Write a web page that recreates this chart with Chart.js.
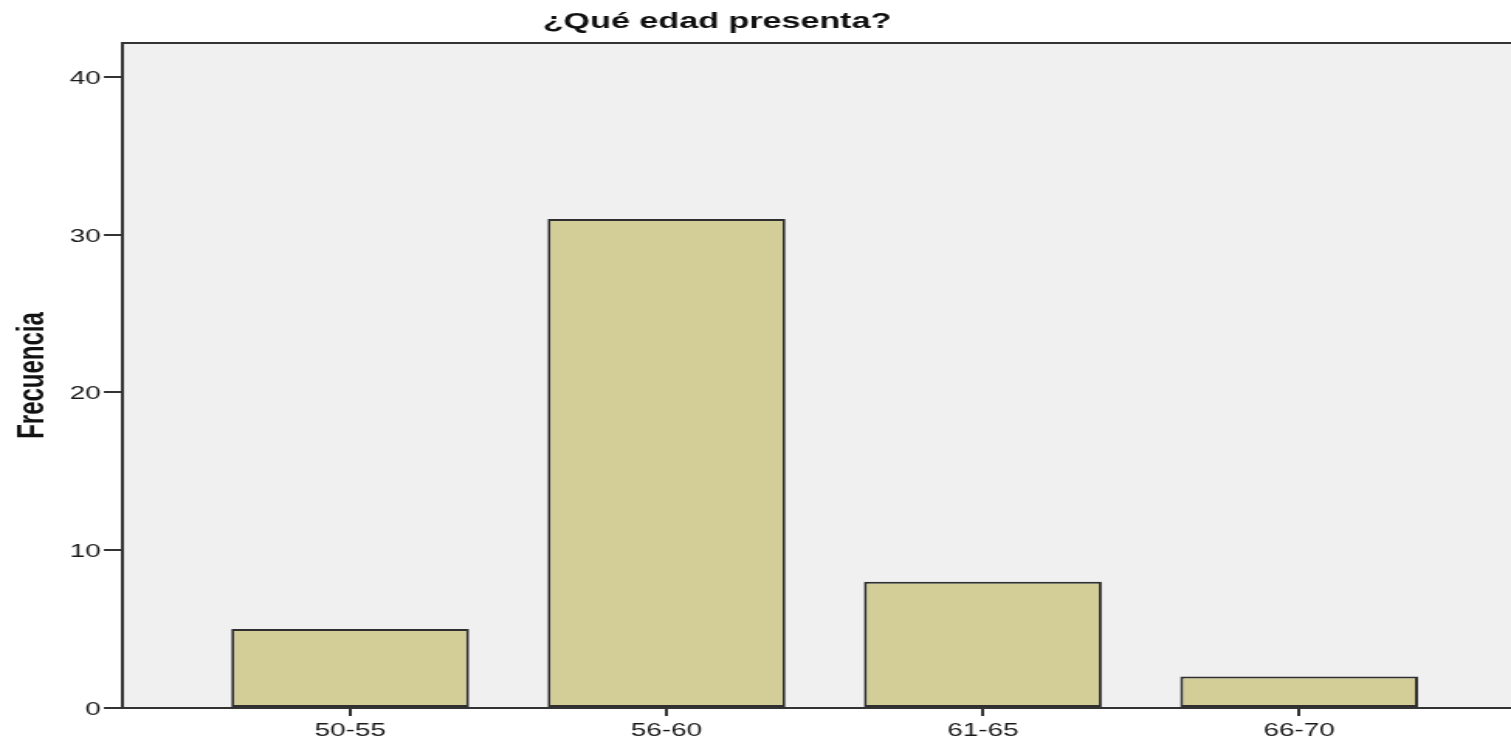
<!DOCTYPE html>
<html>
<head>
<meta charset="utf-8">
<script src="https://cdn.jsdelivr.net/npm/chart.js@4.4.1/dist/chart.umd.min.js"></script>
<style>
  html, body { margin: 0; padding: 0; background: #ffffff; overflow: hidden; width: 1511px; height: 741px; }
  #wrap { position: absolute; left: 0; top: 0; width: 975px; height: 741px; transform: scaleX(1.5498); transform-origin: 0 0; }
  canvas { display: block; }
</style>
</head>
<body>
<div id="wrap"><canvas id="c" width="975" height="741"></canvas></div>
<script>
const chartTitle = '¿Qué edad presenta?';
const yAxisTitle = 'Frecuencia';
const categories = ['50-55', '56-60', '61-65', '66-70'];
const frequencies = [5, 31, 8, 2];
const yTickValues = [0, 10, 20, 30, 40];

const FONT = "'Liberation Sans', Arial, Helvetica, sans-serif";
const AXIS_COLOR = '#333333';

const plotFrame = {
  id: 'plotFrame',
  beforeDraw(chart) {
    const { ctx, chartArea: a } = chart;
    ctx.save();
    ctx.fillStyle = '#f0f0f0';
    ctx.fillRect(a.left, a.top, a.right - a.left, a.bottom - a.top);
    ctx.restore();
  },
  afterDraw(chart) {
    const { ctx, chartArea: a } = chart;
    ctx.save();
    ctx.strokeStyle = AXIS_COLOR;
    ctx.lineWidth = 2;
    ctx.beginPath();
    ctx.moveTo(a.left - 1, a.top);
    ctx.lineTo(a.right, a.top);
    ctx.stroke();
    // chart title
    ctx.fillStyle = '#111111';
    ctx.font = 'bold 22px ' + FONT;
    ctx.textAlign = 'center';
    ctx.textBaseline = 'middle';
    ctx.fillText(chartTitle, chart.width * 0.4745, 22);
    ctx.restore();
  }
};

new Chart(document.getElementById('c'), {
  type: 'bar',
  data: {
    datasets: [{
      data: frequencies.map((v, i) => ({ x: i + 1, y: v })),
      backgroundColor: '#d3ce98',
      borderColor: '#2f2f2f',
      borderWidth: 2,
      borderSkipped: false,
      barPercentage: 0.752,
      categoryPercentage: 1
    }]
  },
  options: {
    responsive: false,
    animation: false,
    devicePixelRatio: 1,
    layout: { padding: { top: 43, left: 0, right: 0, bottom: 0 } },
    plugins: {
      legend: { display: false },
      title: { display: false },
      tooltip: { enabled: false }
    },
    scales: {
      x: {
        type: 'linear',
        min: 0.28,
        max: 4.67,
        offset: false,
        afterBuildTicks(scale) {
          scale.ticks = categories.map((c, i) => ({ value: i + 1 }));
        },
        afterFit(scale) { scale.height = 33; },
        ticks: {
          autoSkip: false,
          maxRotation: 0,
          padding: 4,
          color: '#1a1a1a',
          font: { family: FONT, size: 18 },
          callback: (v) => categories[Math.round(v) - 1] || ''
        },
        grid: { offset: false, drawOnChartArea: false, drawTicks: true, tickLength: 8, color: AXIS_COLOR, lineWidth: 2 },
        border: { display: true, color: AXIS_COLOR, width: 2 }
      },
      y: {
        min: 0,
        max: 42.15,
        afterBuildTicks(scale) {
          scale.ticks = yTickValues.map(v => ({ value: v }));
        },
        afterFit(scale) { scale.width = 79; },
        ticks: {
          padding: 2,
          labelOffset: 2,
          color: '#1a1a1a',
          font: { family: FONT, size: 18 }
        },
        grid: { drawOnChartArea: false, drawTicks: true, tickLength: 12, color: AXIS_COLOR, lineWidth: 2 },
        border: { display: true, color: AXIS_COLOR, width: 2 },
        title: {
          display: true,
          text: yAxisTitle,
          color: '#111111',
          font: { family: FONT, size: 24, weight: 'bold' },
          padding: { top: 7, bottom: 0 }
        }
      }
    }
  },
  plugins: [plotFrame]
});
</script>
</body>
</html>
